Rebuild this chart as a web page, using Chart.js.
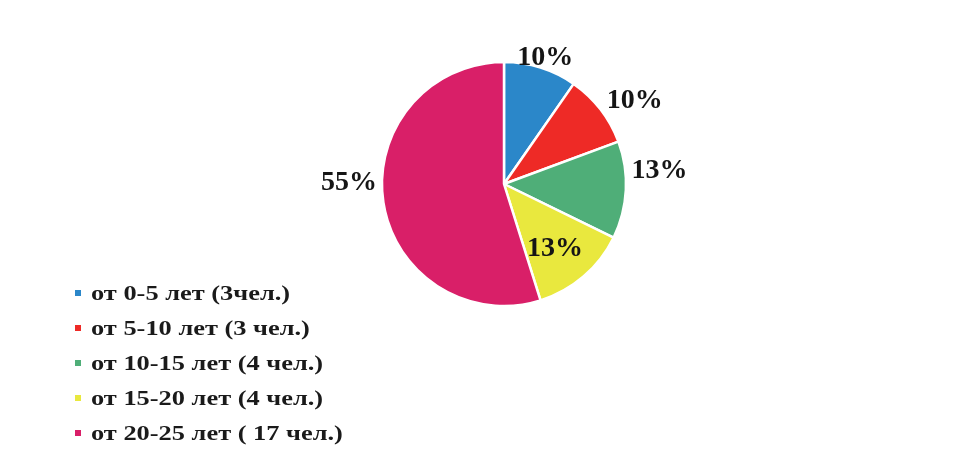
<!DOCTYPE html>
<html><head><meta charset="utf-8">
<script src="https://cdn.jsdelivr.net/npm/chart.js@4.4.1/dist/chart.umd.min.js"></script>
<style>
html,body{margin:0;padding:0;background:#fff;}
#wrap{position:relative;width:972px;height:456px;overflow:hidden;}
#c{position:absolute;left:0;top:0;}
#legend{position:absolute;left:75px;top:279px;font:bold 22px 'Liberation Serif','Times New Roman',serif;color:#1a1a1a;}
#legend div{height:35px;line-height:28px;white-space:nowrap;position:relative;}
#legend span.sw{position:absolute;left:0;top:11px;width:6px;height:6px;}
#legend span.tx{position:absolute;left:16px;top:0;display:inline-block;transform:scaleX(1.2);transform-origin:0 50%;}
</style></head>
<body><div id="wrap"><canvas id="c" width="972" height="456"></canvas><div id="legend"></div></div>
<script>
const categories = ['от 0-5 лет (3чел.)','от 5-10 лет (3 чел.)','от 10-15 лет (4 чел.)','от 15-20 лет (4 чел.)','от 20-25 лет ( 17 чел.)'];
const counts = [3, 3, 4, 4, 17];
const percentLabels = ['10%','10%','13%','13%','55%'];
const colors = ['#2b87c9','#ee2a26','#4fae78','#e9e83e','#d91f68'];

// label placement (radial factor, angle shift in degrees) per slice
const labelPlacement = [
  {r:1.10, da:0.5},
  {r:1.275, da:5},
  {r:1.28, da:-8},
  {r:0.67, da:2},
  {r:1.27, da:9.4}
];

const labelPlugin = {
  id:'pctLabels',
  afterDatasetsDraw(chart){
    const ctx = chart.ctx;
    const meta = chart.getDatasetMeta(0);
    ctx.save();
    ctx.font = "bold 28px 'Liberation Serif','Times New Roman',serif";
    ctx.fillStyle = '#151515';
    ctx.textAlign = 'center';
    ctx.textBaseline = 'middle';
    meta.data.forEach((arc,i)=>{
      const p = arc.getProps(['x','y','startAngle','endAngle','outerRadius'],true);
      const mid = (p.startAngle+p.endAngle)/2 + labelPlacement[i].da*Math.PI/180;
      const d = p.outerRadius*labelPlacement[i].r;
      ctx.fillText(percentLabels[i], p.x + Math.cos(mid)*d, p.y + Math.sin(mid)*d + 1);
    });
    ctx.restore();
  }
};

new Chart(document.getElementById('c'), {
  type:'pie',
  data:{labels:categories, datasets:[{data:counts, backgroundColor:colors, borderColor:'#ffffff', borderWidth:2.5, hoverOffset:0, radius:122}]},
  options:{
    responsive:false, animation:false, devicePixelRatio:1,
    layout:{padding:{left:382,right:346,top:62,bottom:150}},
    plugins:{legend:{display:false}, tooltip:{enabled:false}}
  },
  plugins:[labelPlugin]
});

const lg = document.getElementById('legend');
categories.forEach((t,i)=>{
  const row = document.createElement('div');
  const sw = document.createElement('span'); sw.className='sw'; sw.style.background = colors[i];
  const tx = document.createElement('span'); tx.className='tx'; tx.textContent = t;
  row.appendChild(sw); row.appendChild(tx);
  lg.appendChild(row);
});
</script></body></html>
